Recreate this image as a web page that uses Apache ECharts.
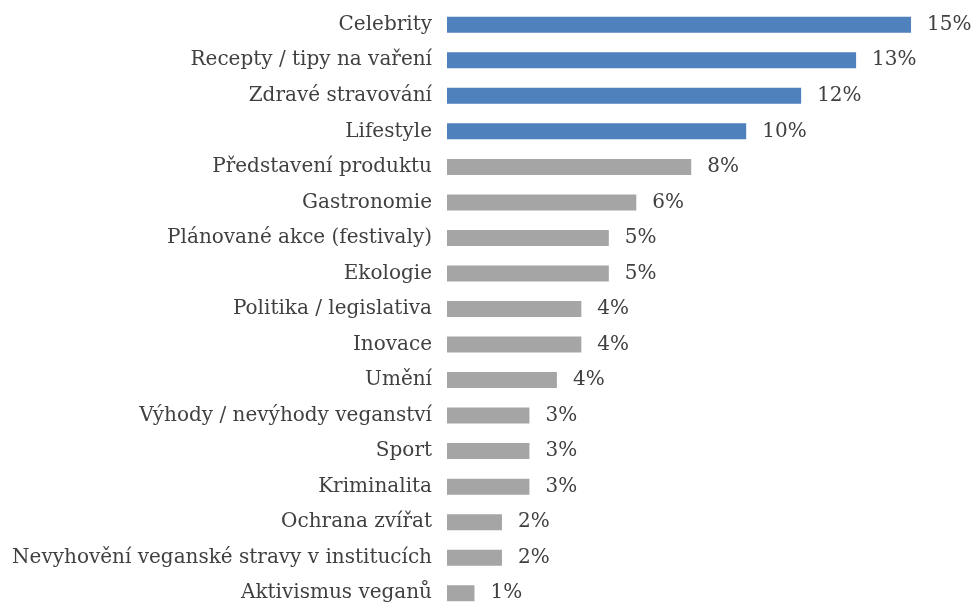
<!DOCTYPE html>
<html>
<head>
<meta charset="utf-8">
<script src="https://cdn.jsdelivr.net/npm/echarts@6/dist/echarts.min.js"></script>
<style>
    html, body { margin: 0; padding: 0; background: #fff; }
    #chart { width: 976px; height: 605px; }
</style>
</head>
<body>
<div id="chart"></div>
<script>
// categories top -> bottom
const categories = [
    'Celebrity',
    'Recepty / tipy na vaření',
    'Zdravé stravování',
    'Lifestyle',
    'Představení produktu',
    'Gastronomie',
    'Plánované akce (festivaly)',
    'Ekologie',
    'Politika / legislativa',
    'Inovace',
    'Umění',
    'Výhody / nevýhody veganství',
    'Sport',
    'Kriminalita',
    'Ochrana zvířat',
    'Nevyhovění veganské stravy v institucích',
    'Aktivismus veganů'
];
// share in percent
const values = [15.2, 13.4, 11.6, 9.8, 8.0, 6.2, 5.3, 5.3, 4.4, 4.4, 3.6, 2.7, 2.7, 2.7, 1.8, 1.8, 0.9];
// first 4 highlighted
const highlightCount = 4;

const blue = '#4F81BD';
const gray = '#A5A5A5';
const font = '"DejaVu Serif", serif';

let myChart = echarts.init(document.getElementById('chart'));
let option = {
    animation: false,
    grid: {
        left: 447,
        right: 10,
        top: 7,
        height: 604,
        outerBoundsMode: 'none',
        containLabel: false
    },
    xAxis: {
        type: 'value',
        min: 0,
        max: 17,
        show: false
    },
    yAxis: {
        type: 'category',
        inverse: true,
        data: categories,
        axisLine: { show: false },
        axisTick: { show: false },
        axisLabel: {
            margin: 15,
            color: '#404040',
            fontFamily: font,
            fontSize: 20
        }
    },
    series: [{
        type: 'bar',
        barWidth: 16,
        data: values.map((v, i) => ({
            value: v,
            itemStyle: { color: i < highlightCount ? blue : gray }
        })),
        label: {
            show: true,
            position: 'right',
            distance: 16,
            color: '#404040',
            fontFamily: font,
            fontSize: 20,
            formatter: p => Math.round(p.value) + '%'
        }
    }]
};
myChart.setOption(option, true);
</script>
</body>
</html>
